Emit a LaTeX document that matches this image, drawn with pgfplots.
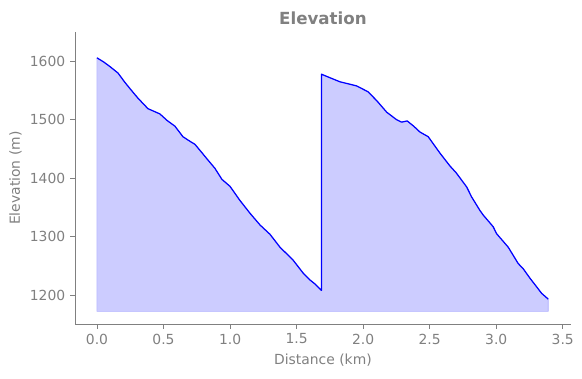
\documentclass[border=0pt]{standalone}
\usepackage{pgfplots}
\pgfplotsset{compat=1.18}
\usepackage{pgfplotstable}
\usepackage{fontspec}
\setmainfont{DejaVu Sans}
\definecolor{tgray}{HTML}{808080}
\pgfplotstableread{
x y
0.000 1606
0.050 1599
0.098 1591
0.158 1580
0.210 1564
0.260 1550
0.308 1537
0.383 1519
0.473 1510
0.526 1499
0.586 1489
0.646 1471
0.700 1463
0.736 1458
0.780 1446
0.827 1433
0.886 1417
0.939 1398
1.000 1386
1.074 1362
1.150 1340
1.225 1320
1.300 1304
1.375 1282
1.473 1260
1.548 1238
1.600 1226
1.638 1219
1.687 1208
1.687 1578
1.750 1572
1.826 1565
1.951 1558
2.036 1548
2.101 1533
2.177 1513
2.252 1500
2.289 1496
2.331 1498
2.380 1489
2.427 1479
2.489 1471
2.577 1443
2.652 1421
2.700 1409
2.778 1385
2.815 1368
2.877 1345
2.902 1337
2.977 1317
3.003 1305
3.090 1282
3.165 1254
3.203 1245
3.253 1229
3.304 1214
3.341 1203
3.391 1193
}\elev
\begin{document}
\begin{tikzpicture}
\path[use as bounding box] (-54pt,-38.9pt) rectangle (365pt,233.3pt);
\begin{axis}[
  at={(0,0)}, anchor=south west,
  scale only axis, width=357pt, height=210pt,
  xmin=-0.165, xmax=3.561, ymin=1150.4, ymax=1649.6,
  axis x line*=bottom, axis y line*=left,
  axis line style={tgray, line width=0.6pt, -},
  tick style={tgray, line width=0.6pt},
  tick align=outside, major tick length=3.5pt,
  xtick={0,0.5,1,1.5,2,2.5,3,3.5},
  ytick={1200,1300,1400,1500,1600},
  xticklabel style={/pgf/number format/.cd, fixed, fixed zerofill, precision=1},
  yticklabel style={/pgf/number format/.cd, fixed, 1000 sep={}},
  /pgf/number format/assume math mode=true,
  ticklabel style={font=\fontsize{10}{12}\selectfont, text=tgray},
  xlabel={Distance (km)}, ylabel={Elevation (m)},
  label style={font=\fontsize{10}{12}\selectfont, text=tgray},
  ylabel style={xshift=0pt, yshift=-1pt},
  title={\textbf{Elevation}},
  title style={font=\fontsize{12}{14}\selectfont, text=tgray, yshift=-4pt},
  clip=false,
]
\addplot[draw=blue, draw opacity=0.25, fill=blue, fill opacity=0.2] table[x=x,y=y] {\elev} -- (axis cs:3.391,1172) -- (axis cs:0,1172) -- cycle;
\addplot[blue, line width=0.9pt, line join=round] table[x=x,y=y] {\elev};
\end{axis}
\end{tikzpicture}
\end{document}
